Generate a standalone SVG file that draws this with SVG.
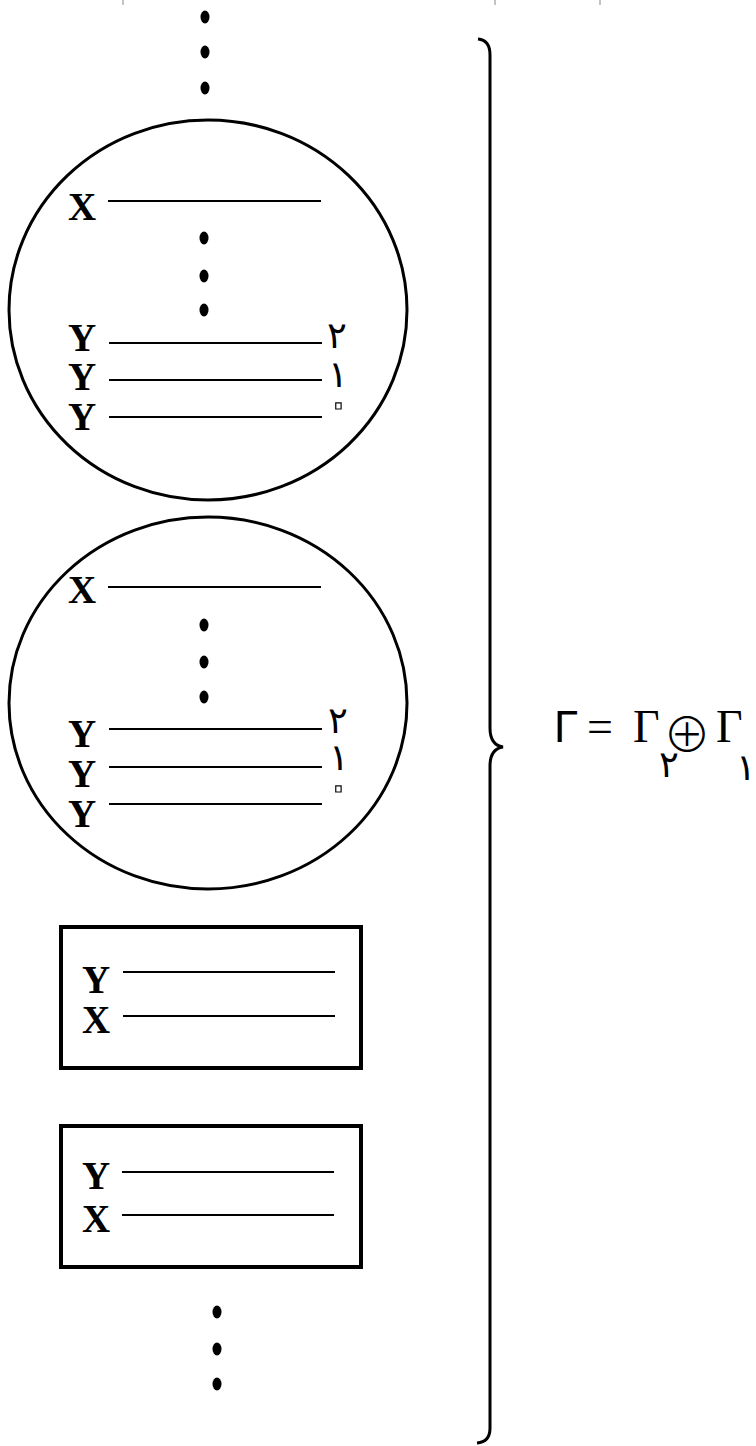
<svg xmlns="http://www.w3.org/2000/svg" width="756" height="1446" viewBox="0 0 756 1446">
<style>
.shape{fill:none;stroke:#000;stroke-width:3}
.box{fill:none;stroke:#000;stroke-width:4}
.ln{stroke:#000;stroke-width:2}
.lbl{font-family:"Liberation Serif","Times New Roman",serif;font-weight:bold;font-size:39px;fill:#000}
.ar{font-family:"DejaVu Sans",sans-serif;font-size:37px;fill:#000}
.zero{font-family:"DejaVu Sans",sans-serif;font-size:50px;fill:#fff;stroke:#000;stroke-width:1.2}
.dot{fill:#000}
.math{font-family:"Liberation Serif","DejaVu Serif",serif;font-size:46px;fill:#000}
</style>
<defs>
<ellipse id="d" class="dot" rx="4.5" ry="6.5"/>
</defs>
<g id="top-ticks" stroke="#888" stroke-width="1">
<line x1="123" y1="0" x2="123" y2="5"/>
<line x1="495" y1="0" x2="495" y2="5"/>
<line x1="600" y1="0" x2="600" y2="5"/>
</g>
<g id="dots-top">
<use href="#d" x="205" y="17"/><use href="#d" x="205" y="52"/><use href="#d" x="205" y="88"/>
</g>
<g id="circle1">
<ellipse class="shape" cx="208" cy="310" rx="199" ry="190"/>
<text class="lbl" x="68" y="220">X</text>
<line class="ln" x1="108" y1="201" x2="321" y2="201"/>
<use href="#d" x="204" y="238"/><use href="#d" x="204" y="276"/><use href="#d" x="204" y="310"/>
<text class="lbl" x="68" y="351">Y</text>
<line class="ln" x1="109" y1="343" x2="322" y2="343"/>
<text class="lbl" x="68" y="390">Y</text>
<line class="ln" x1="109" y1="380" x2="322" y2="380"/>
<text class="lbl" x="68" y="430">Y</text>
<line class="ln" x1="109" y1="417" x2="322" y2="417"/>
<text class="ar" x="327" y="348">٢</text>
<text class="ar" x="328" y="387">١</text>
<text class="zero" x="325" y="420">٠</text>
</g>
<g id="circle2">
<ellipse class="shape" cx="208" cy="703" rx="199" ry="186"/>
<text class="lbl" x="68" y="603">X</text>
<line class="ln" x1="108" y1="587" x2="321" y2="587"/>
<use href="#d" x="204" y="625"/><use href="#d" x="204" y="662"/><use href="#d" x="204" y="697"/>
<text class="lbl" x="68" y="747">Y</text>
<line class="ln" x1="109" y1="729" x2="322" y2="729"/>
<text class="lbl" x="68" y="787">Y</text>
<line class="ln" x1="109" y1="767" x2="322" y2="767"/>
<text class="lbl" x="68" y="827">Y</text>
<line class="ln" x1="109" y1="804" x2="322" y2="804"/>
<text class="ar" x="328" y="733">٢</text>
<text class="ar" x="329" y="770">١</text>
<text class="zero" x="325" y="803">٠</text>
</g>
<g id="box1">
<rect class="box" x="61" y="927" width="300" height="141"/>
<text class="lbl" x="82" y="993">Y</text>
<line class="ln" x1="123" y1="972" x2="335" y2="972"/>
<text class="lbl" x="82" y="1033">X</text>
<line class="ln" x1="123" y1="1016" x2="335" y2="1016"/>
</g>
<g id="box2">
<rect class="box" x="61" y="1126" width="300" height="141"/>
<text class="lbl" x="82" y="1189">Y</text>
<line class="ln" x1="122" y1="1172" x2="334" y2="1172"/>
<text class="lbl" x="82" y="1232">X</text>
<line class="ln" x1="122" y1="1215" x2="334" y2="1215"/>
</g>
<g id="dots-bottom">
<use href="#d" x="217" y="1312"/><use href="#d" x="217" y="1349"/><use href="#d" x="217" y="1384"/>
</g>
<g id="brace">
<path class="shape" stroke-width="2.5" d="M478,39 Q490,40 490,55 L490,728 Q490,745 503,747 Q490,749 490,766 L490,1428 Q490,1442 477,1443"/>
</g>
<g id="formula">
<text x="554" y="742" font-family="Liberation Sans,Arial,sans-serif" font-size="44" fill="#000">Γ</text>
<text class="math" x="587" y="742">=</text>
<text class="math" x="633" y="742">Γ</text>
<text x="663" y="752" font-family="Noto Sans CJK JP,Noto Sans CJK SC,sans-serif" font-weight="300" font-size="48" fill="#000">⊕</text>
<text class="math" x="716" y="742">Γ</text>
<text class="ar" x="659" y="777" font-size="35">٢</text>
<text class="ar" x="736" y="780" font-size="33">١</text>
</g>
</svg>
